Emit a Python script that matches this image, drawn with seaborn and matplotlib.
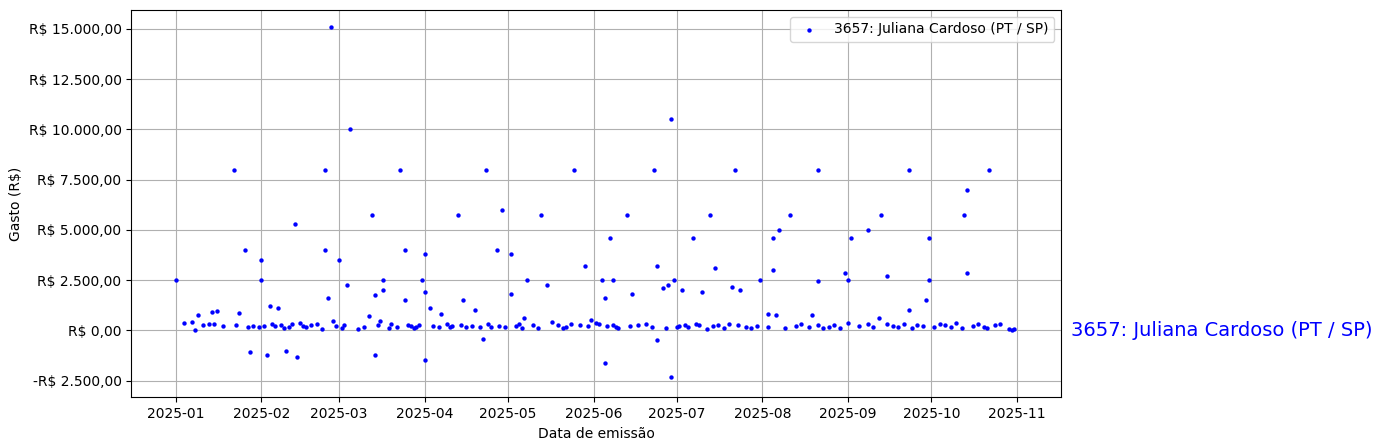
import matplotlib
matplotlib.use('Agg')
import matplotlib.pyplot as plt
import matplotlib.ticker as mticker
import matplotlib.dates as mdates
import seaborn as sns
import pandas as pd

label = "3657: Juliana Cardoso (PT / SP)"

# (days after 2025-01-01, spending in R$)
big_points = [
    (0, 2500), (21, 8000), (25, 4000), (27, -1100), (31, 3500), (31, 2500), (33, -1250),
    (34, 1200), (37, 1100), (40, -1050), (43, 5300), (44, -1350), (54, 8000), (54, 4000),
    (55, 1600), (56, 15100), (59, 3500), (62, 2250), (63, 10000), (71, 5750), (72, -1250),
    (72, 1750), (75, 2500), (75, 2000), (81, 8000), (83, 4000), (83, 1500), (89, 2500),
    (90, 3800), (90, -1500), (90, 1900), (102, 5750), (104, 1500), (112, 8000), (111, -450),
    (116, 4000), (118, 6000), (121, 3800), (121, 1800), (127, 2500), (132, 5750), (134, 2250),
    (144, 8000), (148, 3200), (154, 2500), (155, -1650), (155, 1600), (157, 4600), (158, 2500),
    (163, 5750), (165, 1800), (173, 8000), (174, 3200), (174, -500), (176, 2100), (179, -2350),
    (179, 10500), (178, 2250), (180, 2500), (183, 2000), (187, 4600), (190, 1900), (193, 5750),
    (195, 3100), (202, 8000), (201, 2150), (204, 2000), (211, 2500), (216, 4600), (216, 3000),
    (218, 5000), (222, 5750), (232, 8000), (232, 2450), (242, 2850), (243, 2500), (244, 4600),
    (250, 5000), (255, 5750), (257, 2700), (265, 8000), (272, 4600), (272, 2500), (271, 1500),
    (285, 5750), (286, 7000), (286, 2850), (294, 8000), (214, 800), (230, 750), (265, 1000),
]
small_points = [
    (3, 350), (6, 400), (7, 0), (8, 750), (10, 250), (12, 300), (13, 900), (14, 300),
    (15, 950), (17, 200), (22, 250), (23, 850), (26, 150), (28, 200), (30, 150), (32, 200),
    (35, 300), (36, 200), (38, 250), (39, 100), (41, 150), (42, 300), (45, 350), (46, 200),
    (47, 150), (49, 250), (51, 300), (53, 50), (57, 450), (58, 200), (60, 100), (61, 250),
    (66, 50), (68, 150), (70, 700), (73, 250), (74, 450), (77, 100), (78, 300), (80, 150),
    (84, 250), (85, 200), (86, 100), (87, 150), (88, 250), (92, 1100), (93, 200), (95, 150),
    (96, 800), (98, 300), (99, 150), (100, 200), (103, 250), (105, 150), (107, 200),
    (108, 1000), (110, 150), (113, 300), (114, 150), (117, 200), (119, 150), (123, 200),
    (124, 300), (125, 100), (126, 600), (129, 250), (131, 100), (136, 400), (138, 250),
    (140, 100), (141, 150), (143, 300), (146, 250), (149, 200), (150, 500), (152, 350),
    (153, 300), (156, 200), (158, 250), (159, 150), (160, 100), (164, 200), (167, 250),
    (170, 300), (172, 150), (177, 100), (181, 150), (182, 200), (184, 250), (185, 150),
    (188, 300), (189, 250), (192, 50), (194, 200), (196, 250), (198, 100), (200, 300),
    (203, 250), (206, 150), (208, 100), (210, 200), (214, 150), (217, 750), (220, 100),
    (224, 200), (226, 300), (229, 150), (232, 250), (234, 100), (236, 150), (238, 250),
    (240, 100), (243, 350), (247, 200), (250, 300), (252, 150), (254, 600), (257, 300),
    (259, 200), (261, 150), (263, 300), (266, 100), (268, 250), (270, 200), (274, 150),
    (276, 300), (278, 250), (280, 150), (282, 350), (284, 100), (288, 200), (290, 300),
    (292, 150), (293, 100), (296, 250), (298, 300), (301, 50), (302, 0), (303, 50),
]

days, vals = zip(*(big_points + small_points))
df = pd.DataFrame({"data": pd.Timestamp("2025-01-01") + pd.to_timedelta(list(days), unit="D"),
                   "gasto": list(vals)})


def brl(v, pos):
    s = f"{abs(v):,.2f}".replace(",", "X").replace(".", ",").replace("X", ".")
    return ("-R$ " if v < 0 else "R$ ") + s


fig, ax = plt.subplots(figsize=(13.82, 4.48), dpi=100)
sns.scatterplot(data=df, x="data", y="gasto", color="blue", s=10, edgecolor="blue",
                linewidth=0, label=label, ax=ax)
ax.grid(True)
ax.set_axisbelow(True)
ax.set_ylim(-3340, 15950)
ax.yaxis.set_major_locator(mticker.MultipleLocator(2500))
ax.yaxis.set_major_formatter(mticker.FuncFormatter(brl))
ax.xaxis.set_major_locator(mdates.MonthLocator())
ax.xaxis.set_major_formatter(mdates.DateFormatter("%Y-%m"))
ax.set_xlim(pd.Timestamp("2024-12-16"), pd.Timestamp("2025-11-17"))
ax.set_xlabel("Data de emissão")
ax.set_ylabel("Gasto (R$)")
ax.legend(loc="upper right")
ax.annotate(label, xy=(1.01, 0), xycoords=("axes fraction", "data"),
            color="blue", fontsize=14, va="center", ha="left")
fig.subplots_adjust(left=0.095, right=0.768, top=0.978, bottom=0.113)
fig.savefig("out.png", dpi=100)
